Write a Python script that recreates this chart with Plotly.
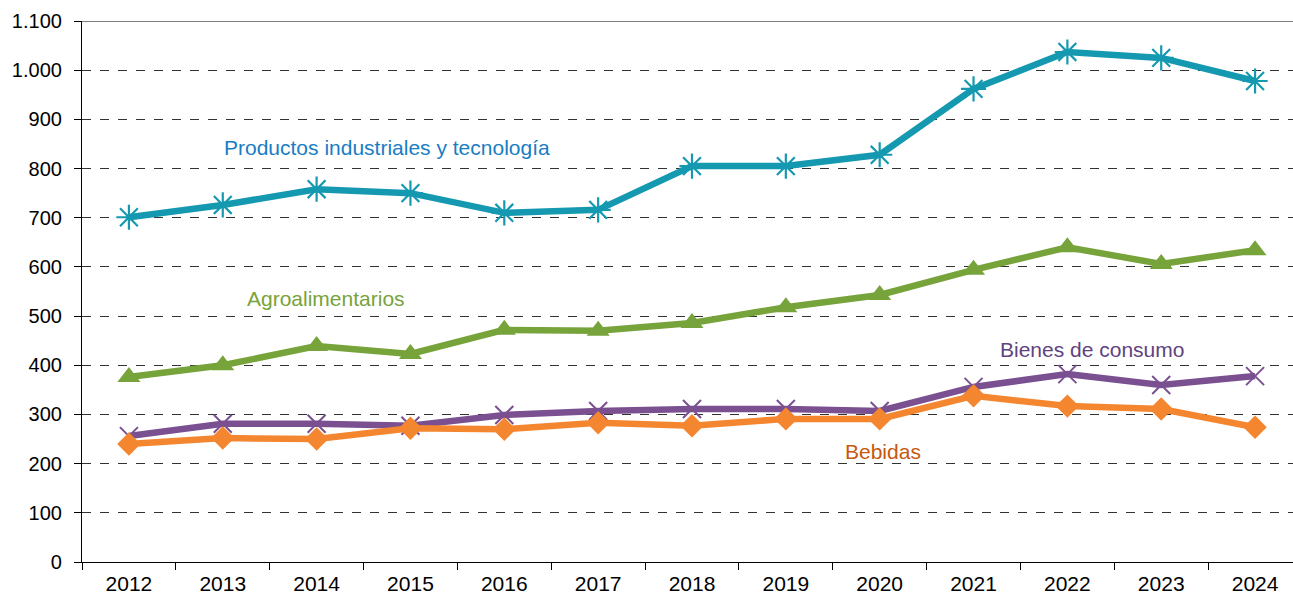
import plotly.graph_objects as go

years = list(range(2012, 2025))
year_labels = [str(y) for y in years]

productos = [701, 726, 758, 750, 710, 716, 805, 805, 828, 962, 1037, 1025, 978]
agro = [376, 400, 439, 423, 472, 470, 486, 518, 543, 594, 640, 606, 634]
bienes = [256, 281, 281, 277, 299, 307, 311, 311, 307, 356, 382, 360, 378]
bebidas = [240, 252, 250, 272, 270, 283, 277, 291, 291, 338, 317, 311, 274]

y_ticks = [0, 100, 200, 300, 400, 500, 600, 700, 800, 900, 1000, 1100]
y_tick_labels = ["0", "100", "200", "300", "400", "500", "600", "700", "800", "900", "1.000", "1.100"]

FONT = "Liberation Sans, Arial, sans-serif"

series = [
    ("Productos industriales y tecnología", productos, "#1599B0",
     dict(symbol="asterisk-open", size=21, line=dict(width=2.2, color="#1599B0"))),
    ("Agroalimentarios", agro, "#77A33B",
     dict(symbol="triangle-up", size=20, color="#77A33B", line=dict(width=0))),
    ("Bienes de consumo", bienes, "#7A5091",
     dict(symbol="x-thin-open", size=18, line=dict(width=2, color="#7A5091"))),
    ("Bebidas", bebidas, "#F58630",
     dict(symbol="diamond", size=18, color="#F58630", line=dict(width=0))),
]

fig = go.Figure()
for name, vals, color, marker in series:
    fig.add_trace(go.Scatter(
        x=years, y=vals, mode="lines+markers", name=name,
        line=dict(color=color, width=6.5), marker=marker,
        showlegend=False, cliponaxis=False,
    ))

labels = [
    ("Productos industriales y tecnología", 2014.755, 842, "#1A7DC2"),
    ("Agroalimentarios", 2014.1, 535, "#77A33B"),
    ("Bienes de consumo", 2022.26, 433, "#5F4380"),
    ("Bebidas", 2020.03, 224, "#C5590F"),
]
for text, x, y, c in labels:
    fig.add_annotation(x=x, y=y, text=text, showarrow=False,
                       font=dict(size=21, color=c, family=FONT),
                       xanchor="center", yanchor="middle")

# top border line at 1100
fig.add_shape(type="line", xref="paper", yref="y", x0=0, x1=1, y0=1100, y1=1100,
              line=dict(color="#000000", width=1.2))

x_end = 2024.5 - 9 / 94.0
fig.update_layout(
    width=1293, height=595,
    margin=dict(l=82, r=0, t=21, b=33),
    paper_bgcolor="white", plot_bgcolor="white",
    font=dict(family=FONT, size=20, color="#000000"),
    xaxis=dict(
        range=[2011.5, x_end], tickmode="array", tickvals=years, ticktext=year_labels,
        ticks="", showgrid=False, zeroline=False,
        showline=True, linecolor="#000000", linewidth=1.2,
        tickfont=dict(size=21, color="#000000", family=FONT),
        ticklabelstandoff=3,
        minor=dict(tickmode="array", tickvals=[y - 0.5 for y in years] + [2024.5],
                   ticks="outside", ticklen=7, tickcolor="#000000", tickwidth=1.2, showgrid=False),
    ),
    yaxis=dict(
        range=[0, 1100], tickmode="array", tickvals=y_ticks, ticktext=y_tick_labels,
        ticks="outside", ticklen=7, tickcolor="#000000", tickwidth=1.2,
        showgrid=True, gridcolor="#333333", griddash="dash", gridwidth=1,
        zeroline=False, showline=True, linecolor="#000000", linewidth=1.2,
        tickfont=dict(size=20, color="#000000", family=FONT),
        ticklabelstandoff=8,
    ),
)

fig.write_html("out.html")
